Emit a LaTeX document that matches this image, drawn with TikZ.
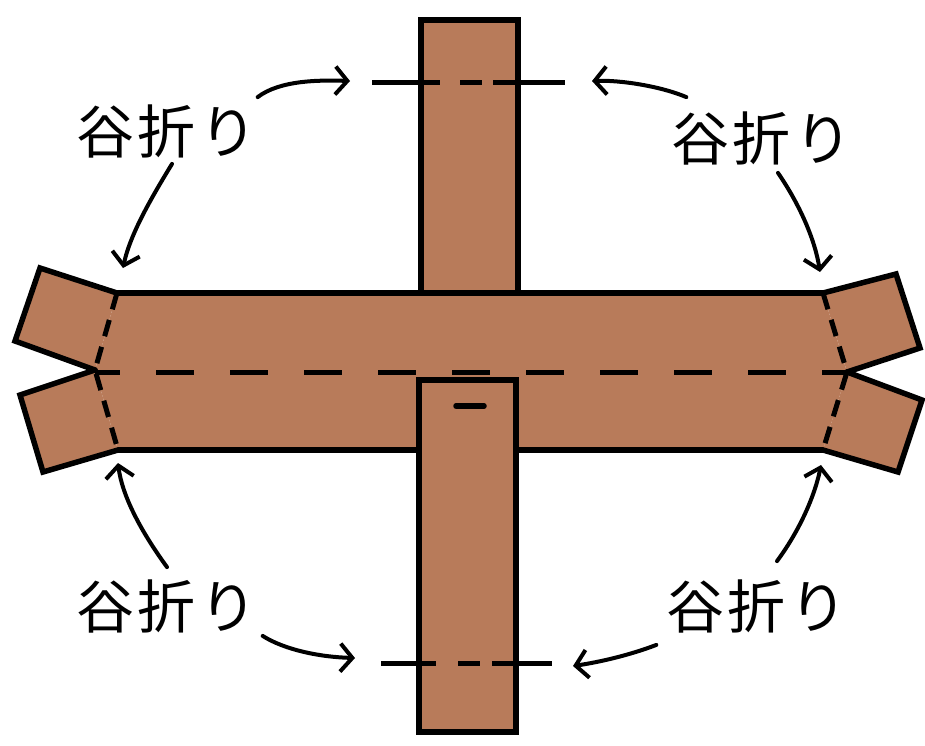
\documentclass[tikz,border=0pt]{standalone}
\usepackage{fontspec}
\newfontfamily\cjk[LetterSpace=6]{Noto Sans CJK JP}
\usepackage{xcolor}
\usepackage{tikz}
\usetikzlibrary{arrows.meta}

\definecolor{paper}{RGB}{184,123,90}

\begin{document}
\begin{tikzpicture}[x=1pt, y=-1pt,
  strip/.style={fill=paper, draw, line width=5.5pt, line join=miter},
  edge/.style={line width=5.5pt, line cap=round},
  fold/.style={line width=5pt, dash pattern=on 38pt off 36pt, dash phase=13pt},
  endfold/.style={line width=5pt, dash pattern=on 17pt off 11pt},
  tani/.style={font=\cjk\fontsize{58}{58}\selectfont, inner sep=0pt},
  arr/.style={-{Straight Barb[length=12pt, width=28pt, line width=4pt]}, line width=4pt, line cap=round}
]
  \useasboundingbox (0,0) rectangle (925,745);

  % upper strip (behind the band)
  \fill[paper] (421,20) rectangle (518,293);
  \draw[edge] (421,293) -- (421,20) -- (518,20) -- (518,293);
  \draw[line width=5pt, dash pattern=on 68pt off 20pt on 22pt off 11pt on 80pt] (372,82) -- (565,82);

  % horizontal band
  \fill[paper] (117,293) -- (823,293) -- (847,372) -- (823,450) -- (118,450) -- (95,370) -- cycle;
  \draw[edge] (117,293) -- (823,293);
  \draw[edge] (118,450) -- (823,450);

  % flaps
  \fill[paper] (117,293) -- (40,268) -- (15,341) -- (95,370) -- cycle;
  \draw[edge] (117,293) -- (40,268) -- (15,341) -- (95,370);
  \fill[paper] (95,370) -- (20,395) -- (43,472) -- (118,450) -- cycle;
  \draw[edge] (95,370) -- (20,395) -- (43,472) -- (118,450);
  \fill[paper] (823,293) -- (896,274) -- (920,348) -- (847,372) -- cycle;
  \draw[edge] (823,293) -- (896,274) -- (920,348) -- (847,372);
  \fill[paper] (847,372) -- (922,400) -- (898,472) -- (823,450) -- cycle;
  \draw[edge] (847,372) -- (922,400) -- (898,472) -- (823,450);

  % fold lines on the band
  \draw[endfold] (117,293) -- (95,370) -- (118,450);
  \draw[endfold] (823,293) -- (847,372) -- (823,450);
  \draw[fold] (95,372) -- (847,372);

  % lower strip (on top)
  \draw[strip] (419,380) rectangle (516,732);
  \draw[edge] (456,406) -- (484,406);
  \draw[line width=5pt, dash pattern=on 55pt off 22pt on 22pt off 12pt on 80pt] (381,663) -- (552,663);

  % labels
  \node[tani] (tl) at (167,131) {谷折り};
  \node[tani] (tr) at (762,138) {谷折り};
  \node[tani] (bl) at (167,606) {谷折り};
  \node[tani] (br) at (757,606) {谷折り};

  \coordinate (tlA) at (350,81);
  \coordinate (tlB) at (123,268);
  \coordinate (trA) at (592,81);
  \coordinate (trB) at (820,272);
  \coordinate (blA) at (118,463);
  \coordinate (blB) at (355,658);
  \coordinate (brA) at (821,465);
  \coordinate (brB) at (573,666);

  \draw[arr] ([xshift=0pt, yshift=7pt]tl.north east) .. controls (280,80) and (320,80) .. (tlA);
  \draw[arr] ([xshift=5pt, yshift=-6pt]tl.south) .. controls (150,200) and (130,235) .. (tlB);
  \draw[arr] ([xshift=15pt, yshift=14pt]tr.north west) .. controls (660,86) and (620,80) .. (trA);
  \draw[arr] ([xshift=16pt, yshift=-8pt]tr.south) .. controls (800,205) and (815,240) .. (trB);
  \draw[arr] ([yshift=12pt]bl.north) .. controls (140,530) and (122,495) .. (blA);
  \draw[arr] ([xshift=5pt, yshift=-3pt]bl.south east) .. controls (285,650) and (320,657) .. (blB);
  \draw[arr] ([xshift=20pt, yshift=18pt]br.north) .. controls (800,530) and (815,495) .. (brA);
  \draw[arr] ([xshift=-10pt, yshift=-12pt]br.south west) .. controls (630,655) and (600,662) .. (brB);
\end{tikzpicture}
\end{document}
